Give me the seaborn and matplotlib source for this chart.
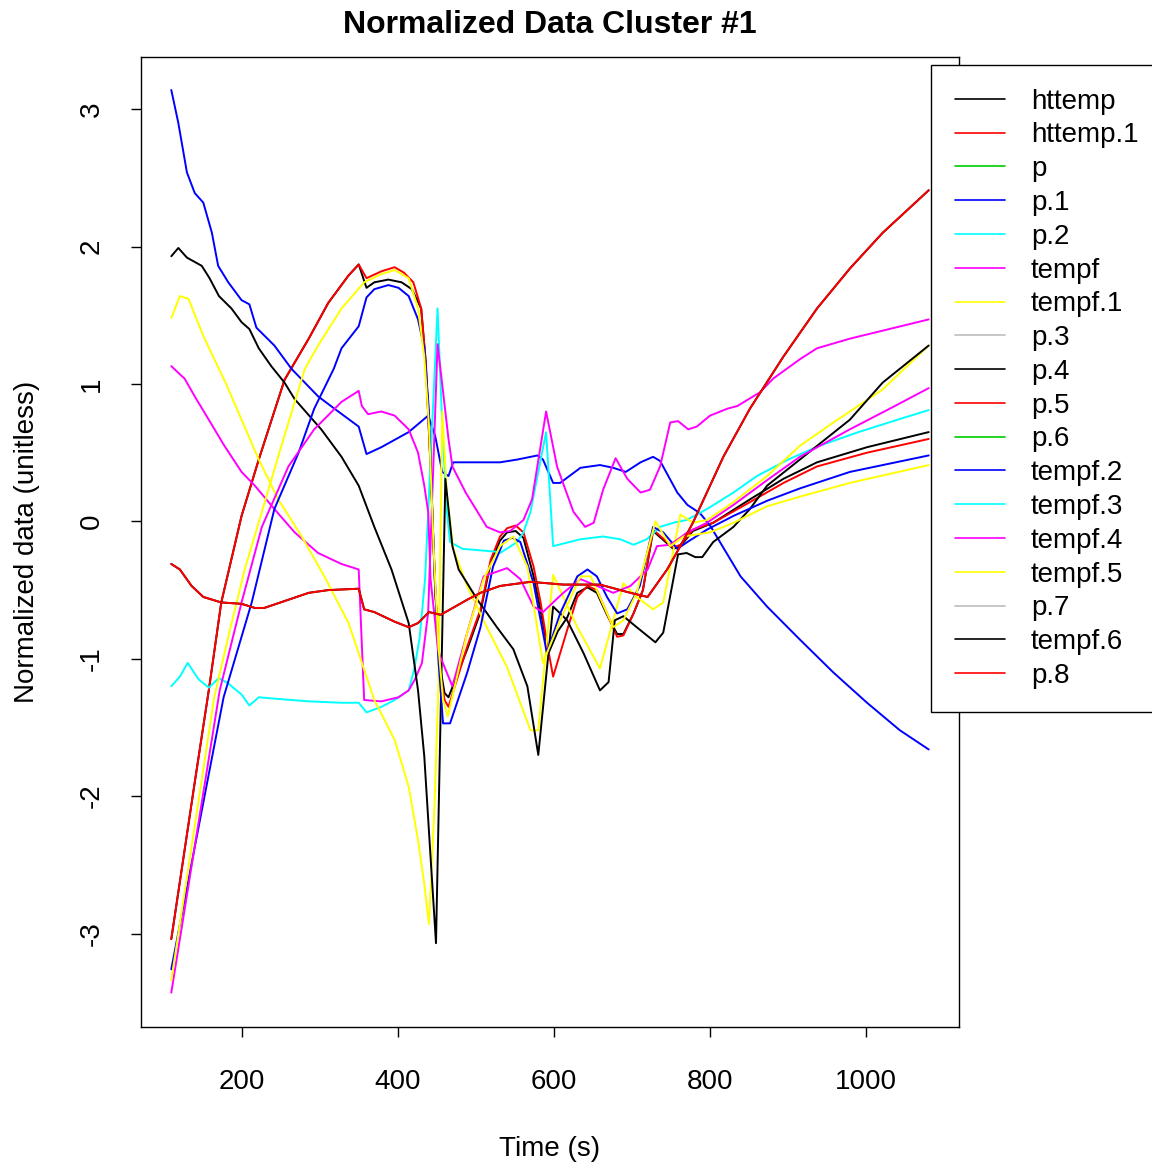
import matplotlib
matplotlib.use("Agg")
import matplotlib.pyplot as plt
from matplotlib.lines import Line2D
import seaborn as sns

# ---- series names, in column order, and their line colours ----
series_names = ["httemp", "httemp.1", "p", "p.1", "p.2", "tempf", "tempf.1", "p.3",
                "p.4", "p.5", "p.6", "tempf.2", "tempf.3", "tempf.4", "tempf.5",
                "p.7", "tempf.6", "p.8"]
series_colors = ["#000000", "#FF0000", "#00CD00", "#0000FF", "#00FFFF", "#FF00FF",
                 "#FFFF00", "#BEBEBE"] * 3

# ---- normalized series (time in s, value unitless) ----
t_httemp = [110, 125, 140, 158, 174, 200, 222, 255, 286, 311, 337, 350, 360, 370, 388,
            405, 418, 430, 436, 442, 448, 454, 460, 465, 489, 506, 519, 531, 540, 551,
            561, 574, 583, 593, 605, 617, 630, 643, 655, 668, 681, 689, 702, 714, 727,
            745, 753, 762, 778, 804, 851, 894, 937, 1001, 1080]
v_httemp = [-3.04, -2.47, -1.9, -1.23, -0.59, 0.04, 0.45, 1.03, 1.33, 1.59, 1.79, 1.87,
            1.70, 1.74, 1.76, 1.74, 1.69, 1.55, 1.15, 0.4, -0.5, -1.05, -1.25, -1.28,
            -0.93, -0.66, -0.3, -0.14, -0.08, -0.07, -0.12, -0.4, -0.65, -0.96, -0.8,
            -0.7, -0.52, -0.48, -0.52, -0.68, -0.82, -0.82, -0.67, -0.5, -0.07, -0.16,
            -0.2, -0.18, -0.07, -0.01, 0.16, 0.31, 0.43, 0.54, 0.65]

t_httemp1 = [110, 125, 140, 158, 174, 200, 222, 255, 286, 311, 337, 350, 360, 379, 396,
             408, 420, 430, 436, 442, 448, 454, 460, 465, 489, 506, 519, 531, 540, 551,
             561, 574, 583, 591, 599, 617, 630, 643, 655, 668, 681, 689, 702, 714, 727,
             745, 753, 762, 778, 804, 851, 894, 937, 1001, 1080]
v_httemp1 = [-3.04, -2.47, -1.9, -1.23, -0.59, 0.04, 0.45, 1.03, 1.33, 1.59, 1.79, 1.87,
             1.77, 1.82, 1.85, 1.81, 1.74, 1.55, 1.15, 0.4, -0.5, -1.1, -1.3, -1.35,
             -0.91, -0.64, -0.28, -0.11, -0.05, -0.03, -0.08, -0.33, -0.59, -0.88, -1.13,
             -0.79, -0.55, -0.47, -0.5, -0.67, -0.84, -0.83, -0.67, -0.5, -0.06, -0.15,
             -0.19, -0.17, -0.06, -0.01, 0.14, 0.28, 0.40, 0.50, 0.60]

t_p1 = [110, 119, 130, 140, 151, 162, 170, 183, 200, 210, 219, 242, 264, 298, 319, 350,
        360, 379, 414, 439, 448, 457, 465, 471, 487, 531, 553, 579, 586, 599, 608, 634,
        659, 676, 692, 711, 727, 736, 758, 771, 787, 800, 839, 873, 915, 958, 1001, 1043,
        1080]
v_p1 = [3.14, 2.9, 2.54, 2.39, 2.32, 2.1, 1.86, 1.74, 1.61, 1.58, 1.41, 1.28, 1.11, 0.91,
        0.82, 0.69, 0.49, 0.54, 0.65, 0.77, 0.62, 0.36, 0.33, 0.43, 0.43, 0.43, 0.45, 0.48,
        0.45, 0.28, 0.28, 0.39, 0.41, 0.39, 0.36, 0.43, 0.47, 0.44, 0.21, 0.12, 0.06, -0.03,
        -0.4, -0.62, -0.86, -1.1, -1.32, -1.52, -1.66]

t_p2 = [110, 121, 131, 145, 158, 171, 183, 200, 210, 222, 242, 286, 328, 350, 360, 379,
        396, 414, 421, 428, 435, 439, 451, 457, 463, 467, 483, 525, 531, 553, 561, 570, 590,
        599, 634, 663, 685, 702, 719, 736, 753, 770, 796, 830, 860, 900, 940, 990, 1040,
        1080]
v_p2 = [-1.2, -1.13, -1.03, -1.15, -1.21, -1.14, -1.18, -1.26, -1.34, -1.28, -1.29, -1.31,
        -1.32, -1.32, -1.39, -1.35, -1.3, -1.23, -1.08, -0.85, -0.42, 0.07, 1.55, 0.7,
        0.07, -0.15, -0.2, -0.22, -0.23, -0.15, -0.08, 0.07, 0.65, -0.18, -0.13, -0.11,
        -0.13, -0.17, -0.13, -0.04, -0.01, 0.01, 0.09, 0.21, 0.33, 0.45, 0.55, 0.65, 0.74,
        0.81]

t_tempf = [110, 123, 127, 140, 158, 178, 200, 217, 242, 268, 298, 328, 350, 357, 379, 401,
           414, 422, 431, 439, 451, 465, 470, 487, 514, 531, 544, 561, 572, 583, 590, 604,
           625, 640, 651, 663, 679, 694, 711, 723, 736, 749, 759, 772, 783, 800, 822, 835,
           864, 881, 915, 937, 979, 1080]
v_tempf = [1.13, 1.06, 1.04, 0.91, 0.74, 0.55, 0.36, 0.26, 0.09, -0.08, -0.23, -0.31,
           -0.35, -1.3, -1.31, -1.28, -1.23, -1.15, -1.03, -0.66, 1.29, 0.6, 0.4, 0.21,
           -0.04, -0.08, -0.07, 0.01, 0.16, 0.55, 0.8, 0.4, 0.07, -0.04, -0.01, 0.23, 0.46,
           0.31, 0.21, 0.23, 0.4, 0.72, 0.73, 0.67, 0.69, 0.77, 0.82, 0.84, 0.94, 1.04,
           1.18, 1.26, 1.33, 1.47]

t_tempf1 = [110, 121, 132, 151, 171, 181, 200, 222, 247, 277, 306, 337, 370, 396, 414,
            426, 434, 440, 447, 452, 457, 463, 471, 489, 514, 540, 570, 580, 599, 630, 659,
            689, 706, 727, 740, 762, 778, 796, 830, 873, 915, 958, 1021, 1080]
v_tempf1 = [1.48, 1.64, 1.62, 1.35, 1.11, 0.99, 0.74, 0.45, 0.16, -0.11, -0.4, -0.74,
            -1.3, -1.59, -1.93, -2.32, -2.64, -2.93, -2.08, -1.23, 0.8, 0.2, -0.2, -0.47,
            -0.77, -1.06, -1.52, -1.52, -0.39, -0.77, -1.07, -0.45, -0.55, -0.64, -0.59,
            0.05, -0.01, 0.01, 0.14, 0.33, 0.55, 0.72, 0.96, 1.28]

t_p4 = [110, 119, 130, 149, 159, 171, 187, 200, 210, 222, 238, 255, 268, 302, 328, 350,
        370, 392, 414, 426, 434, 442, 449, 461, 470, 478, 502, 527, 548, 566, 580, 599, 617,
        638, 659, 670, 678, 689, 706, 730, 740, 759, 770, 781, 790, 804, 830, 851, 873, 915,
        979, 1021, 1080]
v_p4 = [1.93, 1.99, 1.92, 1.86, 1.77, 1.64, 1.55, 1.45, 1.4, 1.26, 1.13, 1.01, 0.89, 0.67,
        0.47, 0.26, -0.04, -0.35, -0.74, -1.23, -1.71, -2.44, -3.07, 0.31, -0.18, -0.35,
        -0.57, -0.77, -0.93, -1.2, -1.7, -0.62, -0.72, -0.96, -1.23, -1.17, -0.72, -0.69,
        -0.77, -0.88, -0.81, -0.24, -0.23, -0.26, -0.26, -0.15, -0.04, 0.09, 0.26, 0.45,
        0.74, 1.01, 1.28]

t_tempf2 = [110, 136, 158, 177, 213, 242, 273, 293, 318, 328, 350, 360, 370, 388, 401, 414,
            426, 434, 440, 446, 452, 458, 467, 489, 506, 522, 536, 547, 557, 574, 591, 608,
            630, 643, 655, 668, 681, 694, 710, 727, 740, 758, 771, 796, 830, 873, 915, 979,
            1080]
v_tempf2 = [-3.26, -2.49, -1.84, -1.28, -0.59, 0.09, 0.5, 0.82, 1.11, 1.26, 1.42, 1.63,
            1.69, 1.72, 1.70, 1.64, 1.47, 1.26, 0.8, -0.2, -1.0, -1.47, -1.47, -1.1, -0.77,
            -0.33, -0.14, -0.12, -0.15, -0.45, -0.96, -0.67, -0.4, -0.35, -0.4, -0.55, -0.67,
            -0.64, -0.47, -0.04, -0.08, -0.2, -0.15, -0.06, 0.04, 0.15, 0.24, 0.36, 0.48]

t_tempf4 = [110, 172, 200, 226, 260, 293, 328, 350, 354, 362, 379, 396, 414, 426, 434, 439,
            442, 452, 470, 489, 510, 540, 557, 574, 586, 612, 634, 651, 676, 698, 720, 732,
            749, 771, 796, 830, 873, 915, 979, 1030, 1080]
v_tempf4 = [-3.43, -1.23, -0.59, -0.04, 0.4, 0.67, 0.87, 0.95, 0.84, 0.78, 0.8, 0.77, 0.67,
            0.5, 0.26, 0.07, -0.42, -0.95, -1.2, -0.81, -0.4, -0.34, -0.42, -0.62, -0.66,
            -0.52, -0.42, -0.46, -0.52, -0.47, -0.35, -0.18, -0.17, -0.08, -0.01, 0.12, 0.3,
            0.47, 0.67, 0.82, 0.97]

t_tempf5 = [110, 165, 183, 204, 226, 251, 281, 298, 328, 357, 379, 396, 414, 426, 434, 440,
            446, 452, 458, 464, 489, 510, 531, 548, 566, 586, 608, 634, 647, 676, 689, 706,
            730, 749, 766, 800, 830, 873, 915, 979, 1080]
v_tempf5 = [-3.34, -1.28, -0.84, -0.35, 0.07, 0.55, 1.11, 1.28, 1.55, 1.74, 1.80, 1.83,
            1.77, 1.55, 1.2, 0.7, -0.2, -0.9, -1.3, -1.42, -0.81, -0.42, -0.18, -0.11, -0.33,
            -1.03, -0.72, -0.4, -0.4, -0.77, -0.72, -0.52, 0.0, -0.18, -0.11, -0.08, -0.01,
            0.11, 0.18, 0.28, 0.41]

t_p8 = [110, 121, 136, 151, 174, 200, 217, 229, 255, 286, 311, 350, 357, 370, 396, 414,
        426, 440, 455, 489, 506, 531, 570, 612, 659, 698, 720, 745, 762, 778, 804, 817, 851,
        894, 937, 979, 1021, 1080]
v_p8 = [-0.31, -0.35, -0.47, -0.55, -0.59, -0.6, -0.63, -0.63, -0.58, -0.52, -0.5, -0.49,
        -0.64, -0.66, -0.73, -0.77, -0.74, -0.66, -0.68, -0.57, -0.52, -0.47, -0.44, -0.46,
        -0.46, -0.52, -0.55, -0.35, -0.18, -0.01, 0.31, 0.47, 0.82, 1.2, 1.55, 1.84, 2.1,
        2.41]

# series with recorded values (the rest are constant columns with no drawn trace)
series_data = {
    "httemp": (t_httemp, v_httemp),
    "httemp.1": (t_httemp1, v_httemp1),
    "p.1": (t_p1, v_p1),
    "p.2": (t_p2, v_p2),
    "tempf": (t_tempf, v_tempf),
    "tempf.1": (t_tempf1, v_tempf1),
    "p.4": (t_p4, v_p4),
    "tempf.2": (t_tempf2, v_tempf2),
    "tempf.4": (t_tempf4, v_tempf4),
    "tempf.5": (t_tempf5, v_tempf5),
    "tempf.6": (t_p8, v_p8),
    "p.8": (t_p8, v_p8),
}

x_ticks = [200, 400, 600, 800, 1000]
y_ticks = [-3, -2, -1, 0, 1, 2, 3]

sns.set_style("white")
plt.rcParams["font.family"] = ["Liberation Sans", "DejaVu Sans"]
plt.rcParams["text.color"] = "black"
plt.rcParams["axes.labelcolor"] = "black"
plt.rcParams["xtick.color"] = "black"
plt.rcParams["ytick.color"] = "black"

fig = plt.figure(figsize=(11.52, 11.66), dpi=100)
ax = fig.add_axes([141 / 1152, 1 - 1027 / 1166, (959 - 141) / 1152, (1027 - 57) / 1166])

for name, color in zip(series_names, series_colors):
    if name not in series_data:
        continue
    t, v = series_data[name]
    sns.lineplot(x=t, y=v, ax=ax, color=color, linewidth=1.4, sort=False,
                 estimator=None, legend=False)

ax.set_xlim(71.2, 1118.8)
ax.set_ylim(-3.68, 3.38)
ax.set_xticks(x_ticks)
ax.set_xticklabels([str(v) for v in x_ticks])
ax.set_yticks(y_ticks)
ax.set_yticklabels([str(v) for v in y_ticks], rotation=90, va="center")
ax.tick_params(axis="both", direction="out", length=7, width=1, labelsize=20,
               color="black", labelcolor="black", bottom=True, left=True)
ax.tick_params(axis="x", pad=23)
ax.tick_params(axis="y", pad=19)
for s in ax.spines.values():
    s.set_color("black")
    s.set_linewidth(1.0)

ax.set_title("Normalized Data Cluster #1", fontsize=23, fontweight="bold", pad=17,
             color="black")
ax.set_xlabel("Time (s)", fontsize=20, labelpad=30, color="black")
ax.set_ylabel("Normalized data (unitless)", fontsize=20, labelpad=28, color="black")

handles = [Line2D([0], [0], color=c, linewidth=1.2) for c in series_colors[:len(series_names)]]
leg = fig.legend(handles, series_names, loc="upper left",
                 bbox_to_anchor=(931 / 1152, 1 - 65 / 1166), bbox_transform=fig.transFigure,
                 fontsize=20, frameon=True, fancybox=False, shadow=False, framealpha=1,
                 edgecolor="black", borderpad=0.85, labelspacing=0.28, handlelength=1.8,
                 handletextpad=0.95, borderaxespad=0)
leg.get_frame().set_linewidth(1.0)
for txt in leg.get_texts():
    txt.set_color("black")

fig.savefig("out.png", dpi=100)
